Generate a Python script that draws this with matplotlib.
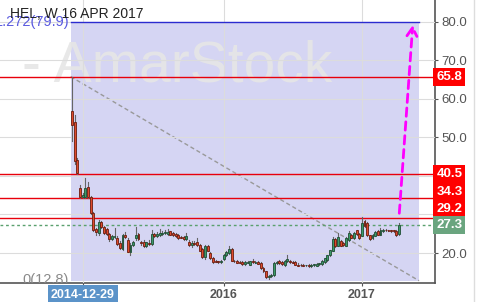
import numpy as np
import matplotlib
matplotlib.use('Agg')
import matplotlib.pyplot as plt
import matplotlib.dates as mdates
from matplotlib.patches import Rectangle, FancyArrowPatch
from matplotlib.lines import Line2D

plt.rcParams['font.family'] = ['Liberation Sans', 'DejaVu Sans']

# weekly candles, HEL
dates = np.arange(np.datetime64('2014-12-01'), np.datetime64('2017-04-11'), np.timedelta64(7, 'D'))
opens = [57.0, 54.0, 44.2, 36.9, 34.5, 34.6, 37.2, 34.6, 30.4, 26.2,
         25.2, 28.0, 26.8, 26.2, 24.9, 23.6, 24.2, 23.9, 22.7, 21.0,
         24.7, 23.4, 20.3, 22.0, 23.8, 25.0, 22.9, 22.9, 21.8, 22.5,
         22.3, 24.9, 24.4, 24.8, 25.0, 25.2, 24.9, 25.6, 25.2, 24.9,
         24.7, 24.0, 24.2, 23.7, 22.9, 22.0, 22.6, 22.9, 22.1, 21.0,
         19.0, 21.9, 20.1, 18.7, 17.9, 17.8, 17.7, 18.4, 19.5, 20.0,
         21.0, 18.0, 17.9, 17.6, 17.6, 17.1, 17.5, 17.0, 17.7, 17.5,
         17.6, 17.4, 16.1, 15.2, 13.7, 14.0, 14.3, 17.4, 17.8, 17.6,
         17.0, 17.8, 18.0, 17.6, 17.6, 17.0, 16.9, 17.0, 16.8, 16.9,
         16.6, 16.9, 16.6, 17.1, 17.1, 17.7, 18.2, 19.5, 20.6, 23.7,
         21.9, 23.2, 22.6, 21.9, 23.4, 24.6, 23.9, 25.9, 24.9, 24.5,
         28.4, 27.8, 24.6, 23.8, 24.5, 25.8, 24.8, 25.6, 26.0, 25.9,
         25.8, 25.8, 25.8, 24.9]
highs = [65.8, 55.8, 44.8, 37.7, 35.5, 39.5, 38.4, 34.8, 30.6, 26.6,
         28.6, 28.4, 27.0, 26.4, 25.2, 24.8, 26.6, 24.3, 23.0, 25.0,
         25.5, 23.8, 22.5, 23.0, 26.8, 25.3, 23.2, 23.5, 22.9, 23.5,
         26.0, 25.3, 25.4, 26.2, 25.8, 26.0, 26.3, 25.8, 25.4, 25.1,
         24.9, 24.3, 24.4, 25.2, 23.3, 23.0, 23.0, 23.8, 22.3, 21.2,
         22.2, 22.1, 20.3, 18.9, 18.1, 18.0, 18.2, 19.8, 20.5, 21.8,
         21.2, 18.2, 18.1, 17.8, 17.9, 17.8, 17.9, 17.9, 18.5, 17.9,
         17.8, 17.6, 16.3, 15.4, 14.2, 14.6, 17.6, 17.9, 18.1, 18.0,
         18.2, 19.6, 18.2, 17.8, 17.8, 17.3, 17.1, 17.2, 17.0, 17.1,
         17.2, 17.1, 17.4, 17.5, 18.2, 18.8, 19.6, 20.9, 24.2, 24.0,
         25.3, 23.5, 22.9, 24.2, 25.6, 24.9, 25.5, 26.1, 25.2, 29.4,
         28.6, 28.0, 24.8, 25.0, 25.6, 26.0, 26.4, 26.2, 26.2, 26.1,
         26.1, 26.0, 26.0, 27.8]
lows = [49.0, 43.0, 40.5, 34.3, 34.3, 34.3, 34.4, 30.0, 25.8, 24.8,
        24.8, 26.5, 25.0, 24.6, 23.2, 23.3, 24.0, 22.2, 21.0, 20.8,
        23.8, 20.2, 19.6, 21.8, 23.5, 23.5, 22.0, 21.5, 21.5, 22.2,
        22.0, 24.2, 24.2, 24.5, 24.7, 24.9, 24.7, 24.6, 24.5, 24.1,
        23.7, 23.8, 23.4, 23.5, 21.8, 21.6, 22.0, 21.9, 20.4, 18.8,
        18.4, 20.4, 18.4, 17.5, 17.6, 17.5, 17.5, 18.2, 19.2, 19.8,
        17.8, 17.6, 17.4, 17.3, 17.0, 17.0, 17.3, 16.9, 17.5, 17.3,
        17.1, 15.9, 15.0, 13.5, 13.2, 13.8, 14.1, 17.2, 17.2, 17.0,
        16.6, 17.6, 17.4, 17.4, 16.9, 16.6, 16.7, 16.5, 16.7, 16.4,
        16.4, 16.7, 16.5, 16.9, 17.0, 17.5, 18.0, 19.3, 20.4, 21.6,
        21.7, 21.7, 21.9, 21.7, 23.2, 23.8, 23.7, 24.8, 23.7, 24.3,
        26.8, 24.4, 23.4, 23.6, 24.3, 24.6, 24.6, 25.4, 25.7, 25.6,
        25.5, 25.4, 24.4, 24.7]
closes = [53.2, 43.8, 40.8, 34.5, 35.0, 36.9, 34.6, 30.4, 26.0, 25.5,
          28.0, 26.7, 25.3, 24.9, 23.6, 24.5, 24.5, 22.4, 21.2, 24.7,
          24.2, 20.3, 22.0, 22.8, 24.8, 23.6, 22.5, 21.8, 22.8, 22.4,
          24.9, 24.4, 25.0, 25.2, 25.2, 25.5, 25.5, 24.8, 24.7, 24.3,
          23.9, 23.9, 23.7, 24.3, 22.0, 22.6, 22.4, 22.1, 20.6, 19.0,
          21.9, 20.6, 18.6, 17.7, 17.7, 17.7, 18.0, 19.5, 20.3, 21.0,
          18.0, 17.8, 17.5, 17.4, 17.1, 17.6, 17.6, 17.8, 17.6, 17.7,
          17.2, 16.1, 15.2, 13.8, 14.0, 14.4, 17.5, 17.7, 17.4, 17.2,
          18.0, 18.4, 17.6, 17.5, 17.0, 16.7, 16.8, 16.6, 16.9, 16.6,
          17.0, 16.9, 17.2, 17.4, 18.0, 18.7, 19.5, 20.8, 23.7, 21.8,
          24.2, 21.9, 22.2, 24.0, 25.2, 24.0, 25.3, 25.0, 23.9, 27.8,
          27.1, 24.6, 23.6, 24.7, 25.4, 24.8, 26.0, 26.0, 25.9, 25.8,
          25.7, 25.7, 24.6, 27.3]

levels = [65.8, 40.5, 34.3, 29.2]
last_price = 27.3
fib_top, fib_bottom = 79.9, 12.8
swing_high = 65.8
yticks = [20, 30, 40, 50, 60, 70, 80]
xtick_dates = ['2014-12-29', '2016-01-04', '2017-01-02']
xtick_labels = ['2014-12-29', '2016', '2017']

x = mdates.date2num(dates)
wk = 7.0

fig = plt.figure(figsize=(4.78, 3.02), dpi=100)
ax = fig.add_axes([0, 19 / 302, 435 / 478, 283 / 302])
ax.set_xlim(x[0] - 27.07 * wk, x[0] + 136.5 * wk)
ax.set_ylim(12.21, 85.7)

# fib zone
fx0 = x[0] - 0.5 * wk
fx1 = x[0] + 130.5 * wk
ax.add_patch(Rectangle((fx0, fib_bottom), fx1 - fx0, fib_top - fib_bottom,
                       facecolor='#d5d5f3', edgecolor='none', zorder=0.5))
ax.plot([fx0, fx1], [fib_top, fib_top], color='#2b2bd0', lw=1, zorder=3)
ax.text(fx0 - 0.6 * wk, fib_top, '1.272(79.9)', color='#5a5ae0', fontsize=10.5,
        ha='right', va='center', zorder=3)
ax.text(fx0 - 0.6 * wk, fib_bottom + 0.3, '0(12.8)', color='#8a8a8a', fontsize=10.5,
        ha='right', va='center', zorder=3, clip_on=True)

# watermark
ax.text(x[0] - 18.8 * wk, 68.5, '- AmarStock', fontsize=41, color='#e6e6e6',
        ha='left', va='center', zorder=1, alpha=0.9)

ax.set_yticks(yticks)
ax.set_xticks(mdates.date2num(np.array(xtick_dates, dtype='datetime64[D]')))
ax.grid(True, color='#dcdcdc', lw=0.8)
ax.set_axisbelow(False)
for gl in ax.get_xgridlines() + ax.get_ygridlines():
    gl.set_zorder(0.8)

# trend line
ax.plot([fx0, fx1], [swing_high, fib_bottom], color='#999999', lw=1,
        ls=(0, (3, 2)), zorder=2)

# levels
for lv in levels:
    ax.axhline(lv, color='#e8000b', lw=1, zorder=3)
ax.axhline(last_price, color='#5aa06e', lw=1, ls=(0, (2, 2)), zorder=3)

# candles
for xi, o, h, l, c in zip(x, opens, highs, lows, closes):
    up = c >= o
    ax.plot([xi, xi], [l, h], color='#666666', lw=0.8, zorder=4)
    body = max(abs(c - o), 0.2)
    ax.bar(xi, body, bottom=min(o, c), width=0.72 * wk,
           color='#3c9a68' if up else '#de4a2c',
           edgecolor='#1f4d33' if up else '#6b1c0e', lw=0.6, zorder=5)

# projection arrow
arr = FancyArrowPatch((x[-1], 29.6), (x[0] + 128.2 * wk, fib_top),
                      arrowstyle='->,head_length=0.5,head_width=0.3',
                      mutation_scale=12, color='#ff00ff', lw=2,
                      ls=(0, (3, 2)), zorder=6)
ax.add_patch(arr)

# axes styling
for s in ['top', 'left']:
    ax.spines[s].set_visible(False)
for s in ['bottom', 'right']:
    ax.spines[s].set_color('#555555')
    ax.spines[s].set_linewidth(1.2)
ax.yaxis.tick_right()
ax.set_yticklabels(['20.0', '', '', '50.0', '60.0', '70.0', '80.0'])
ax.tick_params(axis='y', length=2.5, color='#555555', labelcolor='#555555',
               labelsize=9.5, pad=2)
ax.tick_params(axis='x', length=2.5, color='#555555', labelcolor='#555555',
               labelsize=9, pad=1.5)
ax.set_xticklabels(xtick_labels, fontweight='bold')
lab0 = ax.get_xticklabels()[0]
lab0.set_color('white')
lab0.set_bbox(dict(boxstyle='square,pad=0.25', facecolor='#5b93c9', edgecolor='none'))

# price boxes on the right axis (labels nudged apart like the original)
trans = ax.get_yaxis_transform()
box_pos = {65.8: 65.8, 40.5: 40.5, 34.3: 35.8, 29.2: 31.4}
for lv in levels:
    ax.text(1.003, box_pos[lv], f'{lv:.1f}', transform=trans, color='white', fontsize=9.5,
            fontweight='bold', ha='left', va='center', clip_on=False, zorder=7,
            bbox=dict(boxstyle='square,pad=0.22', facecolor='#ff0000', edgecolor='none'))
ax.text(1.003, last_price, f'{last_price:.1f}', transform=trans, color='white',
        fontsize=9.5, fontweight='bold', ha='left', va='center', clip_on=False,
        zorder=7, bbox=dict(boxstyle='square,pad=0.22', facecolor='#6aa57f', edgecolor='none'))

fig.text(10 / 478, 1 - 14 / 302, 'HEL, W 16 APR 2017', fontsize=10,
         color='#222222', ha='left', va='center')
fig.add_artist(Line2D([473.5 / 478, 473.5 / 478], [0, 1], color='#dddddd', lw=1))

fig.savefig('out.png', dpi=100)
